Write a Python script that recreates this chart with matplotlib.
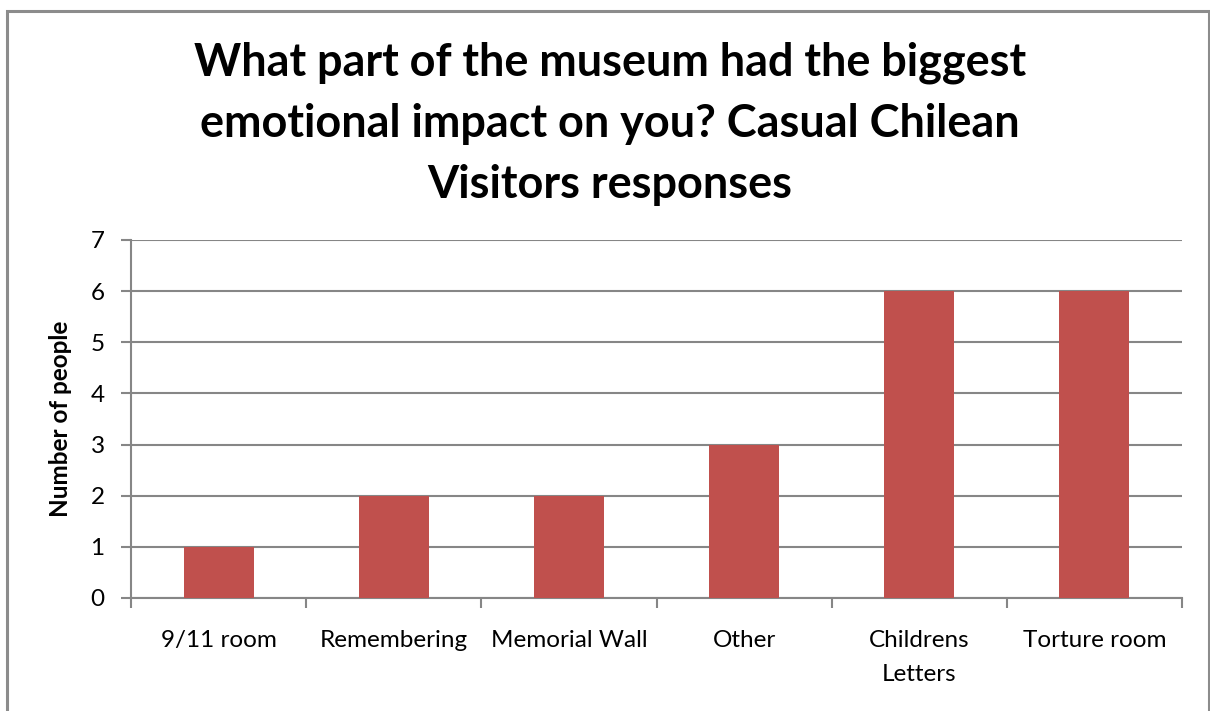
import matplotlib
matplotlib.use("Agg")
import matplotlib.pyplot as plt
from matplotlib.patches import Rectangle

categories = ["9/11 room", "Remembering", "Memorial Wall", "Other", "Childrens\nLetters", "Torture room"]
counts = [1, 2, 2, 3, 6, 6]
y_ticks = [0, 1, 2, 3, 4, 5, 6, 7]

title = "What part of the museum had the biggest\nemotional impact on you? Casual Chilean\nVisitors responses"
y_label = "Number of people"

plt.rcParams["font.family"] = ["Lato", "DejaVu Sans"]

bar_color = "#C0504D"
grid_color = "#868686"

fig = plt.figure(figsize=(12.10, 7.11), dpi=100)
ax = fig.add_axes([131 / 1210, 113 / 711, (1182 - 131) / 1210, (598 - 240) / 711])

positions = list(range(len(categories)))
ax.bar(positions, counts, width=0.4, color=bar_color, zorder=3)

ax.set_xlim(-0.5, len(categories) - 0.5)
ax.set_ylim(0, 7)
ax.set_yticks(y_ticks)
ax.set_yticklabels([str(v) for v in y_ticks])
ax.yaxis.grid(True, color=grid_color, linewidth=1.5, zorder=0)
ax.set_axisbelow(True)

# category labels centred under each bar, tick marks on category boundaries
ax.set_xticks(positions)
ax.set_xticklabels(categories, fontsize=17.5, linespacing=1.75)
ax.tick_params(axis="x", length=0, pad=23)
ax.set_xticks([p - 0.5 for p in positions] + [len(categories) - 0.5], minor=True)
ax.tick_params(axis="x", which="minor", length=7, width=1.5, color=grid_color)
ax.tick_params(axis="y", length=7, width=1.5, color=grid_color, labelsize=17.5, pad=12)

for side in ["top", "right"]:
    ax.spines[side].set_visible(False)
for side in ["left", "bottom"]:
    ax.spines[side].set_color(grid_color)
    ax.spines[side].set_linewidth(1.5)

ax.set_ylabel(y_label, fontsize=17.5, fontweight="bold", labelpad=13)

fig.text(610 / 1210, 1 - 124 / 711, title, ha="center", va="center",
         fontsize=32.4, fontweight="bold", linespacing=1.56)

# outer chart frame
frame = Rectangle((7 / 1210, -0.05), (1209 - 7) / 1210, 1.05 - 11 / 711,
                  transform=fig.transFigure, fill=False, edgecolor="#8C8C8C",
                  linewidth=2.2, clip_on=False)
fig.patches.append(frame)

fig.savefig("out.png", dpi=100)
